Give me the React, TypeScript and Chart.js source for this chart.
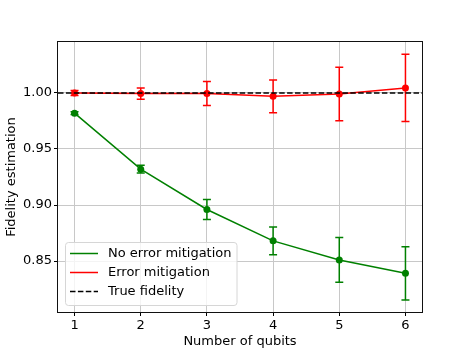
import { useEffect, useRef } from "react";
import { Chart, registerables } from "chart.js";

Chart.register(...registerables);

const QUBITS = [1, 2, 3, 4, 5, 6];
const NO_MITIGATION = [0.982, 0.932, 0.896, 0.868, 0.851, 0.839];
const NO_MITIGATION_ERR = [0.0012, 0.0035, 0.009, 0.0123, 0.02, 0.0237];
const MITIGATION = [1.0, 0.9995, 0.9995, 0.997, 0.9991, 1.0045];
const MITIGATION_ERR = [0.0022, 0.005, 0.0107, 0.0146, 0.0238, 0.03];
const TRUE_FIDELITY = 1.0;
const X_TICKS = [1, 2, 3, 4, 5, 6];
const Y_TICKS = [0.85, 0.9, 0.95, 1.0];
const LEGEND_LABELS = ["No error mitigation", "Error mitigation", "True fidelity"];
const COLORS = ["#008000", "#ff0000", "#000000"];
const X_RANGE = [0.75, 6.25];
const Y_RANGE = [0.8045, 1.0455];

const FONT = "DejaVu Sans";
const GRID = "#c8c8c8";

const errorBarPlugin = {
  id: "errorBars",
  beforeDatasetsDraw(chart: any) {
    const { ctx, scales } = chart;
    chart.data.datasets.forEach((ds: any) => {
      const errs: number[] = ds.errorBars;
      if (!errs) return;
      ctx.save();
      ctx.strokeStyle = ds.borderColor;
      ctx.lineWidth = 1.5;
      ds.data.forEach((p: any, i: number) => {
        const x = scales.x.getPixelForValue(p.x);
        const y1 = scales.y.getPixelForValue(p.y - errs[i]);
        const y2 = scales.y.getPixelForValue(p.y + errs[i]);
        const cap = 4;
        ctx.beginPath();
        ctx.moveTo(x, y1);
        ctx.lineTo(x, y2);
        ctx.moveTo(x - cap, y1);
        ctx.lineTo(x + cap, y1);
        ctx.moveTo(x - cap, y2);
        ctx.lineTo(x + cap, y2);
        ctx.stroke();
      });
      ctx.restore();
    });
  },
};

const overlayPlugin = {
  id: "overlay",
  afterDatasetsDraw(chart: any) {
    const { ctx, chartArea, scales } = chart;
    const y = scales.y.getPixelForValue(TRUE_FIDELITY);
    ctx.save();
    ctx.strokeStyle = COLORS[2];
    ctx.lineWidth = 1.5;
    ctx.setLineDash([5.5, 2.4]);
    ctx.beginPath();
    ctx.moveTo(chartArea.left, y);
    ctx.lineTo(chartArea.right, y);
    ctx.stroke();
    ctx.restore();

    ctx.save();
    ctx.strokeStyle = "#111";
    ctx.lineWidth = 1;
    ctx.strokeRect(
      Math.round(chartArea.left) - 0.5,
      Math.round(chartArea.top) - 0.5,
      Math.round(chartArea.right - chartArea.left) + 1,
      Math.round(chartArea.bottom - chartArea.top) + 1
    );
    ctx.restore();

    ctx.save();
    ctx.font = `13px "${FONT}"`;
    const textW = Math.max(...LEGEND_LABELS.map((t) => ctx.measureText(t).width));
    const pad = 5;
    const handle = 28;
    const gap = 10;
    const rowH = 19;
    const boxW = pad + handle + gap + textW + pad;
    const boxH = rowH * LEGEND_LABELS.length + 6;
    const bx = chartArea.left + 7;
    const by = chartArea.bottom - 7 - boxH;
    ctx.beginPath();
    (ctx as any).roundRect(bx + 0.5, by + 0.5, boxW, boxH, 3);
    ctx.fillStyle = "rgba(255,255,255,0.8)";
    ctx.fill();
    ctx.strokeStyle = "#d6d6d6";
    ctx.lineWidth = 1;
    ctx.stroke();
    LEGEND_LABELS.forEach((label, i) => {
      const cy = by + 11.5 + i * rowH;
      ctx.strokeStyle = COLORS[i];
      ctx.lineWidth = 1.5;
      ctx.setLineDash(i === 2 ? [5.5, 2.4] : []);
      ctx.beginPath();
      ctx.moveTo(bx + pad, cy);
      ctx.lineTo(bx + pad + handle, cy);
      ctx.stroke();
      ctx.setLineDash([]);
      ctx.fillStyle = "#000";
      ctx.textBaseline = "middle";
      ctx.textAlign = "left";
      ctx.fillText(label, bx + pad + handle + gap, cy);
    });
    ctx.restore();
  },
};

export default function App() {
  const ref = useRef<HTMLCanvasElement | null>(null);
  useEffect(() => {
    if (!ref.current) return;
    Chart.defaults.font.family = FONT;
    Chart.defaults.font.size = 13;
    Chart.defaults.color = "#000";
    const mk = (vals: number[]) => vals.map((v, i) => ({ x: QUBITS[i], y: v }));
    const chart = new Chart(ref.current, {
      type: "line",
      data: {
        datasets: [
          {
            label: LEGEND_LABELS[0],
            data: mk(NO_MITIGATION),
            borderColor: COLORS[0],
            backgroundColor: COLORS[0],
            borderWidth: 1.5,
            pointRadius: 3.5,
            pointBorderWidth: 0,
            tension: 0,
            errorBars: NO_MITIGATION_ERR,
          } as any,
          {
            label: LEGEND_LABELS[1],
            data: mk(MITIGATION),
            borderColor: COLORS[1],
            backgroundColor: COLORS[1],
            borderWidth: 1.5,
            pointRadius: 3.5,
            pointBorderWidth: 0,
            tension: 0,
            errorBars: MITIGATION_ERR,
          } as any,
        ],
      },
      options: {
        animation: false,
        responsive: true,
        maintainAspectRatio: false,
        layout: { padding: { top: 42, right: 47, left: 0, bottom: 0 } },
        plugins: { legend: { display: false }, tooltip: { enabled: false } },
        scales: {
          x: {
            type: "linear",
            min: X_RANGE[0],
            max: X_RANGE[1],
            afterBuildTicks: (s: any) => {
              s.ticks = X_TICKS.map((v) => ({ value: v }));
            },
            afterFit: (s: any) => {
              s.height = 39;
            },
            ticks: { padding: 2, callback: (v: any) => String(v), maxRotation: 0 },
            grid: { color: GRID, lineWidth: 1, tickColor: "#000", tickLength: 4, tickWidth: 1 },
            border: { display: false },
            title: { display: true, text: "Number of qubits", padding: { top: 0, bottom: 2 }, font: { size: 13 } },
          },
          y: {
            type: "linear",
            min: Y_RANGE[0],
            max: Y_RANGE[1],
            afterBuildTicks: (s: any) => {
              s.ticks = Y_TICKS.map((v) => ({ value: v }));
            },
            afterFit: (s: any) => {
              s.width = 58;
            },
            ticks: { padding: 2, callback: (v: any) => Number(v).toFixed(2) },
            grid: { color: GRID, lineWidth: 1, tickColor: "#000", tickLength: 4, tickWidth: 1 },
            border: { display: false },
            title: { display: true, text: "Fidelity estimation", padding: { top: 4, bottom: 0 }, font: { size: 13 } },
          },
        },
      } as any,
      plugins: [errorBarPlugin, overlayPlugin],
    });
    return () => chart.destroy();
  }, []);
  return (
    <div style={{ position: "fixed", left: 0, top: 0, width: 469, height: 351, background: "#fff" }}>
      <canvas ref={ref} />
    </div>
  );
}
